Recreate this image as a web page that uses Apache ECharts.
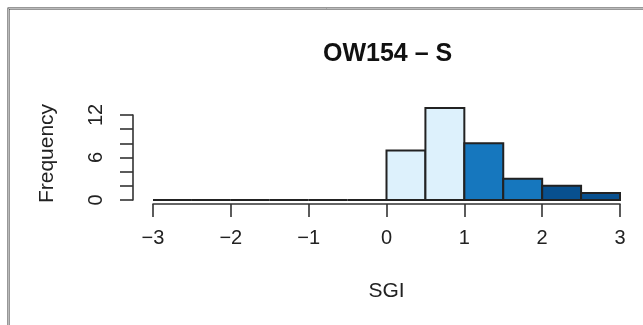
<!DOCTYPE html>
<html>
<head>
<meta charset="utf-8">
<script src="https://cdn.jsdelivr.net/npm/echarts@6/dist/echarts.min.js"></script>
<style>
html,body{margin:0;padding:0;background:#fff;}
#chart{width:643px;height:325px;}
</style>
</head>
<body>
<div id="chart"></div>
<script>
// Histogram data
const binStarts = [-3, -2.5, -2, -1.5, -1, -0.5, 0, 0.5, 1, 1.5, 2, 2.5];
const binEnds   = [-2.5, -2, -1.5, -1, -0.5, 0, 0.5, 1, 1.5, 2, 2.5, 3];
const counts    = [0, 0, 0, 0, 0, 0, 7, 13, 8, 3, 2, 1];
const xTicks    = [-3, -2, -1, 0, 1, 2, 3];
const yTickLabels = [0, 6, 12];
const titleText = 'OW154 \u2013 S';
const xName = 'SGI';
const yName = 'Frequency';

const FONT = '"Liberation Sans", Arial, Helvetica, sans-serif';

function binColor(start) {
  if (start < 1) return '#DDF1FC';
  if (start < 2) return '#1677BE';
  return '#08508F';
}

const data = binStarts.map((s, i) => [s, binEnds[i], counts[i]]);

const chart = echarts.init(document.getElementById('chart'), null, {renderer: 'canvas'});
chart.setOption({
  animation: false,
  backgroundColor: '#ffffff',
  title: {
    text: titleText,
    left: 318,
    top: 37,
    textStyle: {fontFamily: FONT, fontSize: 25, fontWeight: 'bold', color: '#111'}
  },
  grid: {left: 153, right: 23, top: 115, bottom: 125, containLabel: false},
  xAxis: {
    type: 'value',
    min: -3, max: 3, interval: 1,
    offset: 4,
    name: xName,
    nameLocation: 'middle',
    nameGap: 77,
    nameTextStyle: {fontFamily: FONT, fontSize: 21, color: '#222'},
    axisLine: {show: true, onZero: false, lineStyle: {color: '#333', width: 1.6}},
    axisTick: {show: true, length: 13, lineStyle: {color: '#333', width: 1.6}},
    axisLabel: {
      margin: 24, fontFamily: FONT, fontSize: 20, color: '#222',
      formatter: v => xTicks.includes(v) ? String(v).replace('-', '\u2212') : ''
    },
    splitLine: {show: false}
  },
  yAxis: {
    type: 'value',
    min: 0, max: 12, interval: 2,
    offset: 20,
    name: yName,
    nameLocation: 'middle',
    nameRotate: 90,
    nameGap: 75,
    nameTextStyle: {fontFamily: FONT, fontSize: 21, color: '#222', padding: [0, 0, 0, 8]},
    axisLine: {show: true, onZero: false, lineStyle: {color: '#333', width: 1.6}},
    axisTick: {show: true, length: 13, lineStyle: {color: '#333', width: 1.6}},
    axisLabel: {
      rotate: 90, margin: 27, fontFamily: FONT, fontSize: 20, color: '#222',
      formatter: v => yTickLabels.includes(v) ? String(v) : ''
    },
    splitLine: {show: false}
  },
  series: [{
    type: 'custom',
    clip: false,
    data: data,
    encode: {x: [0, 1], y: 2},
    renderItem: function (params, api) {
      const p0 = api.coord([api.value(0), 0]);
      const p1 = api.coord([api.value(1), api.value(2)]);
      return {
        type: 'rect',
        shape: {x: p0[0], y: p1[1], width: p1[0] - p0[0], height: p0[1] - p1[1]},
        style: {fill: binColor(api.value(0)), stroke: '#222', lineWidth: 2}
      };
    }
  }],
  graphic: [
    {type: 'rect', left: 6, top: 6, shape: {x: 0, y: 0, width: 700, height: 400},
     style: {fill: 'none', stroke: '#333', lineWidth: 2}, silent: true},
    {type: 'rect', shape: {x: 8.5, y: 8.5, width: 700, height: 400},
     style: {fill: 'none', stroke: '#bbb', lineWidth: 1}, silent: true}
  ]
});
</script>
</body>
</html>
